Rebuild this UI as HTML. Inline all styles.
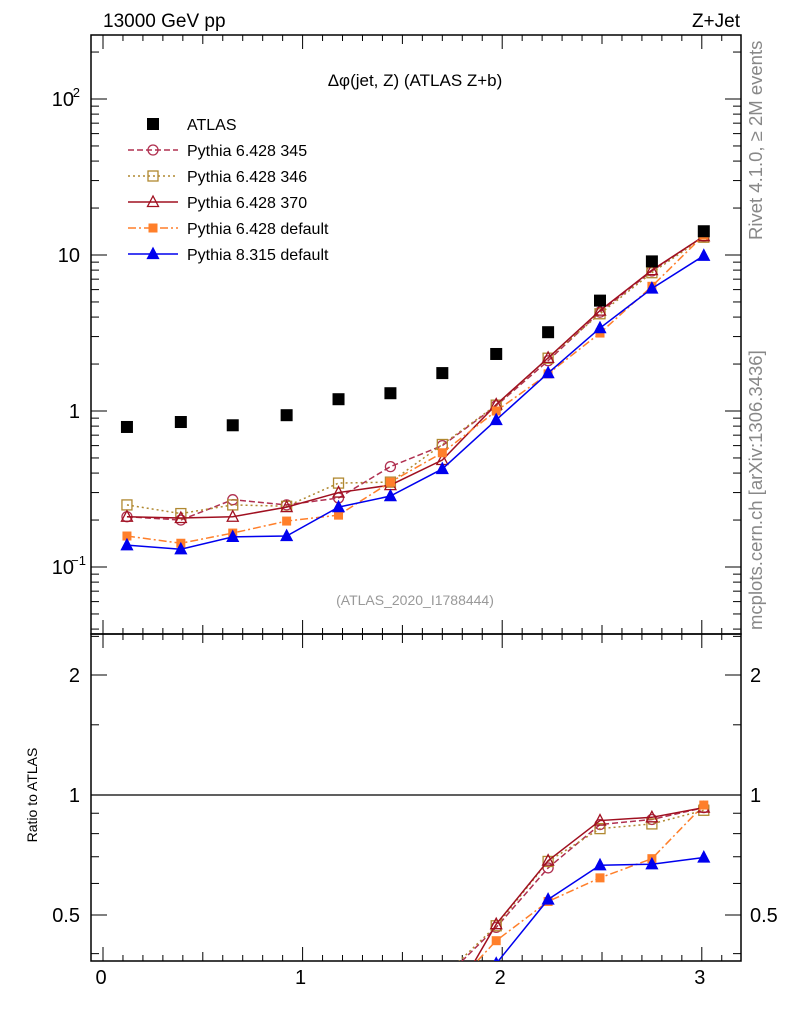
<!DOCTYPE html>
<html><head><meta charset="utf-8"><style>
html,body{margin:0;padding:0;background:#fff;overflow:hidden;width:786px;height:1024px;}
svg{display:block;font-family:"Liberation Sans",sans-serif;}
</style></head><body>
<svg id="chart" width="786" height="1024" viewBox="0 0 786 1024">
<defs>
<clipPath id="cpMain"><rect x="91" y="35" width="650" height="599"/></clipPath>
<clipPath id="cpRatio"><rect x="91" y="634" width="650" height="327"/></clipPath>
</defs>
<text x="103" y="27" font-size="19">13000 GeV pp</text>
<text x="740" y="27" font-size="19" text-anchor="end">Z+Jet</text>
<text transform="translate(762,240) rotate(-90)" font-size="18.5" fill="#888">Rivet 4.1.0, ≥ 2M events</text>
<text transform="translate(762,630) rotate(-90)" font-size="18.5" fill="#888">mcplots.cern.ch [arXiv:1306.3436]</text>
<text x="415" y="86" font-size="17" text-anchor="middle">Δφ(jet, Z) (ATLAS Z+b)</text>
<text x="415" y="605" font-size="14" text-anchor="middle" fill="#999">(ATLAS_2020_I1788444)</text>
<text transform="translate(37,795) rotate(-90)" font-size="14" text-anchor="middle">Ratio to ATLAS</text>
<g id="axes"></g>
<g id="legend"></g>
<g id="marks"></g>
</svg>
<script>
const xCenters=[0.12,0.39,0.65,0.92,1.18,1.44,1.70,1.97,2.23,2.49,2.75,3.01];
const atlas=[0.79,0.85,0.81,0.94,1.19,1.3,1.75,2.32,3.2,5.1,9.1,14.2];
const p345=[0.21,0.20,0.27,0.25,0.277,0.44,0.60,1.08,2.1,4.3,7.9,13.2];
const p346=[0.25,0.22,0.25,0.245,0.345,0.35,0.61,1.09,2.18,4.2,7.7,13.0];
const p370=[0.21,0.206,0.21,0.242,0.30,0.335,0.485,1.1,2.19,4.4,8.0,13.2];
const p6def=[0.158,0.142,0.165,0.197,0.215,0.35,0.54,1.0,1.73,3.16,6.3,13.4];
const p8def=[0.138,0.13,0.156,0.158,0.242,0.285,0.425,0.876,1.75,3.4,6.1,9.9];
const xTickLabels=["0","1","2","3"];
const ratioTickLabels=["0.5","1","2"];
const legendLabels=["ATLAS","Pythia 6.428 345","Pythia 6.428 346","Pythia 6.428 370","Pythia 6.428 default","Pythia 8.315 default"];

const NS="http://www.w3.org/2000/svg";
const L=91,R=741,T=35,MB=634,RB=961;
const X=v=>103+v*199.6;
const Y=v=>411-156*Math.log10(v);
const YR=v=>795-120*Math.log2(v);
function mk(tag,attrs,parent){const e=document.createElementNS(NS,tag);for(const k in attrs)e.setAttribute(k,attrs[k]);parent.appendChild(e);return e;}
const axes=document.getElementById('axes'),marks=document.getElementById('marks'),leg=document.getElementById('legend');

let f1=mk('rect',{x:L,y:T,width:R-L,height:MB-T,fill:'none',stroke:'#000','stroke-width':1.5},axes);


let f2=mk('rect',{x:L,y:MB,width:R-L,height:RB-MB,fill:'none',stroke:'#000','stroke-width':1.5},axes);


let ref=mk('line',{x1:L,x2:R,y1:YR(1),y2:YR(1),stroke:'#000','stroke-width':1.2},axes);



for(let i=0;i<=32;i++){const v=i/10,x=X(v);if(x>R)break;const len=i%10==0?14:(i%5==0?9:6);
 for(const [yb,dir] of [[MB,-1],[T,1],[RB,-1],[MB,1]]){mk('line',{x1:x,x2:x,y1:yb,y2:yb+dir*len,stroke:'#000','stroke-width':1},axes);}
}
xTickLabels.forEach((t,i)=>{const e=mk('text',{x:X(i)-2,y:984,'font-size':20,'text-anchor':'middle'},axes);e.textContent=t;
 
 });
for(let d=-2;d<=2;d++){for(let m=1;m<10;m++){const v=m*Math.pow(10,d),y=Y(v);if(y<T||y>MB)continue;const len=m==1?16:8;
 mk('line',{x1:L,x2:L+len,y1:y,y2:y,stroke:'#000'},axes);mk('line',{x1:R,x2:R-len,y1:y,y2:y,stroke:'#000'},axes);}}
[[Y(100),'10','2'],[Y(10),'10',''],[Y(1),'1',''],[Y(0.1),'10','−1']].forEach(([y,b,s])=>{
 const e=mk('text',{x:s?74:80,y:y+7,'font-size':20,'text-anchor':'end'},axes);e.textContent=b;
 
 
 if(s){const t=mk('text',{x:s.length>1?86:80,y:y-2,'font-size':13,'text-anchor':'end'},axes);t.textContent=s;}
});
const rt=[0.4,0.5,0.6,0.7,0.8,0.9,1,1.5,2,2.5];
rt.forEach(v=>{const y=YR(v);if(y<MB||y>RB)return;const len=[0.5,1,2].includes(v)?16:8;
 mk('line',{x1:L,x2:L+len,y1:y,y2:y,stroke:'#000'},axes);mk('line',{x1:R,x2:R-len,y1:y,y2:y,stroke:'#000'},axes);});
ratioTickLabels.forEach(t=>{const y=YR(parseFloat(t))+7;
 const a=mk('text',{x:80,y:y,'font-size':20,'text-anchor':'end'},axes);a.textContent=t;
 
 
 const b=mk('text',{x:750,y:y,'font-size':20},axes);b.textContent=t;
 
 });

const series=[
 {name:'pythia-6428-345',data:p345,color:'#b03050',dash:'6,3',marker:'circle'},
 {name:'pythia-6428-346',data:p346,color:'#b08830',dash:'2,3',marker:'square-open'},
 {name:'pythia-6428-370',data:p370,color:'#a01020',dash:'',marker:'tri-open'},
 {name:'pythia-6428-default',data:p6def,color:'#ff7f2a',dash:'8,3,2,3',marker:'square'},
 {name:'pythia-8315-default',data:p8def,color:'#0000ee',dash:'',marker:'tri'}
];
function marker(type,x,y,c,g){
 if(type=='circle')return mk('circle',{cx:x,cy:y,r:5,fill:'none',stroke:c,'stroke-width':1.3},g);
 if(type=='square-open')return mk('rect',{x:x-5,y:y-5,width:10,height:10,fill:'none',stroke:c,'stroke-width':1.3},g);
 if(type=='square')return mk('rect',{x:x-4.5,y:y-4.5,width:9,height:9,fill:c},g);
 if(type=='atlas')return mk('rect',{x:x-6,y:y-6,width:12,height:12,fill:c},g);
 const pts=`${x},${y-6} ${x-5.5},${y+4.5} ${x+5.5},${y+4.5}`;
 return mk('polygon',{points:pts,fill:type=='tri'?c:'none',stroke:c,'stroke-width':1.3},g);
}
series.forEach(s=>{
 const g=mk('g',{'clip-path':'url(#cpMain)'},marks);
 
 
 mk('polyline',{points:s.data.map((v,i)=>X(xCenters[i])+','+Y(v)).join(' '),fill:'none',stroke:s.color,'stroke-width':1.5,'stroke-dasharray':s.dash},g);
 s.data.forEach((v,i)=>{const m=marker(s.marker,X(xCenters[i]),Y(v),s.color,g);
  
  });
 const gr=mk('g',{'clip-path':'url(#cpRatio)'},marks);
 
 
 mk('polyline',{points:s.data.map((v,i)=>X(xCenters[i])+','+YR(v/atlas[i])).join(' '),fill:'none',stroke:s.color,'stroke-width':1.5,'stroke-dasharray':s.dash},gr);
 s.data.forEach((v,i)=>{const m=marker(s.marker,X(xCenters[i]),YR(v/atlas[i]),s.color,gr);
  
  });
});
const ga=mk('g',{'clip-path':'url(#cpMain)'},marks);


atlas.forEach((v,i)=>{const m=marker('atlas',X(xCenters[i]),Y(v),'#000',ga);
 
 });

const legStyles=[{c:'#000',m:'atlas',d:null}].concat(series.map(s=>({c:s.color,m:s.marker,d:s.dash})));
legendLabels.forEach((t,i)=>{const y=124+i*26;
 const g=mk('g',{},leg);
 
 
 const st=legStyles[i];
 if(st.d!==null)mk('line',{x1:128,x2:178,y1:y,y2:y,stroke:st.c,'stroke-width':1.5,'stroke-dasharray':st.d},g);
 marker(st.m,153,y,st.c,g);
 const e=mk('text',{x:187,y:y+6,'font-size':16},g);e.textContent=t;});
</script>
</body></html>
